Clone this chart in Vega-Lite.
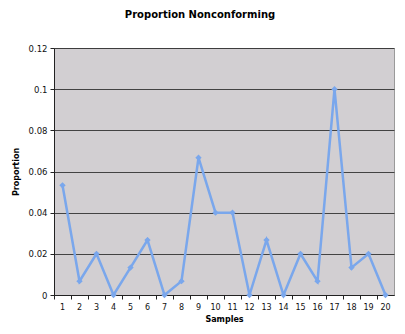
{
  "$schema": "https://vega.github.io/schema/vega-lite/v6.json",
  "width": 340,
  "height": 247,
  "autosize": {"type": "none"},
  "padding": {"left": 54, "top": 48, "right": 11, "bottom": 39},
  "background": "white",
  "title": {
    "text": "Proportion Nonconforming",
    "font": "DejaVu Sans",
    "fontSize": 10,
    "fontWeight": "bold",
    "color": "#000000",
    "anchor": "middle",
    "frame": "group",
    "dx": -24,
    "offset": 24
  },
  "config": {
    "view": {"fill": "#d2cfd2", "stroke": "#9a9a9a", "strokeWidth": 1},
    "axis": {
      "labelFont": "DejaVu Sans",
      "labelFontSize": 8,
      "labelColor": "#111111",
      "titleFont": "DejaVu Sans",
      "titleFontSize": 8,
      "titleFontWeight": "bold",
      "titleColor": "#000000",
      "domainColor": "#222222",
      "tickColor": "#222222"
    }
  },
  "data": {
    "values": [
      {"sample": 1, "p": 0.0533},
      {"sample": 2, "p": 0.0067},
      {"sample": 3, "p": 0.02},
      {"sample": 4, "p": 0},
      {"sample": 5, "p": 0.0133},
      {"sample": 6, "p": 0.0267},
      {"sample": 7, "p": 0},
      {"sample": 8, "p": 0.0067},
      {"sample": 9, "p": 0.0667},
      {"sample": 10, "p": 0.04},
      {"sample": 11, "p": 0.04},
      {"sample": 12, "p": 0},
      {"sample": 13, "p": 0.0267},
      {"sample": 14, "p": 0},
      {"sample": 15, "p": 0.02},
      {"sample": 16, "p": 0.0067},
      {"sample": 17, "p": 0.1},
      {"sample": 18, "p": 0.0133},
      {"sample": 19, "p": 0.02},
      {"sample": 20, "p": 0}
    ]
  },
  "resolve": {"axis": {"x": "independent"}},
  "layer": [
    {
      "mark": {"type": "line", "color": "#7aa7ec", "strokeWidth": 2.5, "point": {"filled": true, "shape": "diamond", "size": 40, "color": "#7aa7ec"}},
      "encoding": {
        "x": {
          "field": "sample",
          "type": "ordinal",
          "sort": null,
          "scale": {"type": "band", "paddingInner": 0, "paddingOuter": 0},
          "axis": {"title": "Samples", "orient": "bottom", "labelAngle": 0, "ticks": false, "labelPadding": 8, "titlePadding": 4, "domain": true}
        },
        "y": {
          "field": "p",
          "type": "quantitative",
          "scale": {"domain": [0, 0.12], "nice": false},
          "axis": {
            "title": "Proportion",
            "values": [0, 0.02, 0.04, 0.06, 0.08, 0.1, 0.12],
            "format": ".2~f",
            "grid": true,
            "gridColor": "#333333",
            "gridWidth": 1,
            "gridOpacity": 0.9,
            "tickSize": 4,
            "labelFontSize": 8.5,
            "labelPadding": 3,
            "titlePadding": 8
          }
        }
      }
    },
    {
      "mark": {"type": "point", "opacity": 0},
      "encoding": {
        "x": {
          "field": "sample",
          "type": "ordinal",
          "sort": null,
          "scale": {"type": "band", "paddingInner": 0, "paddingOuter": 0},
          "axis": {"title": null, "orient": "bottom", "labels": false, "ticks": true, "tickSize": 4, "bandPosition": 0, "domain": false, "grid": false}
        },
        "y": {"field": "p", "type": "quantitative"}
      }
    }
  ]
}
